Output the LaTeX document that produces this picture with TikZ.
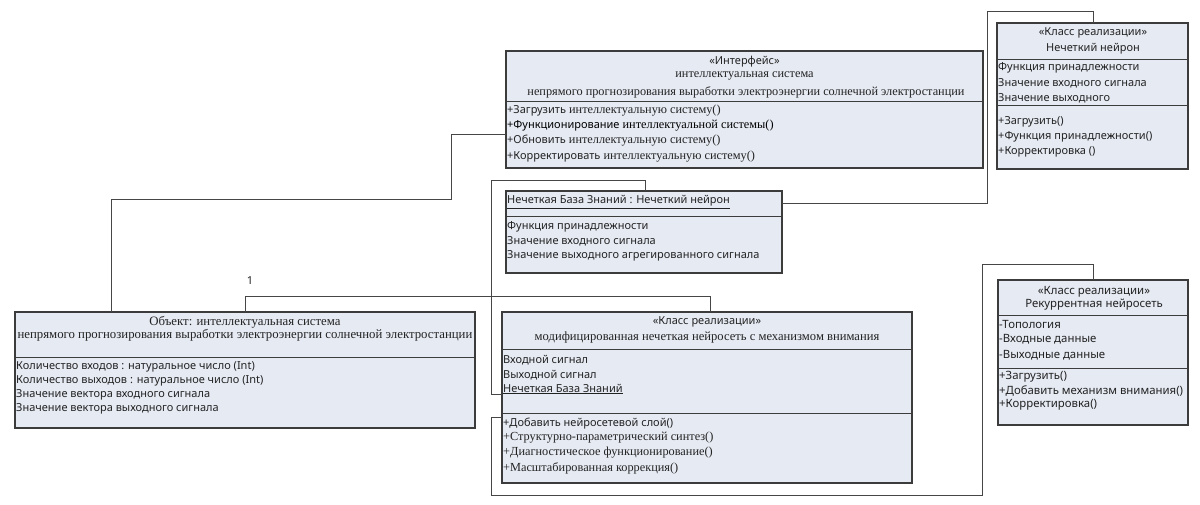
\documentclass[tikz,border=0pt]{standalone}
\usepackage{fontspec}
\usetikzlibrary{shadows}
\setmainfont{Liberation Serif}
\newfontfamily\sansf{Noto Sans}
\definecolor{boxfill}{RGB}{230,234,243}
\definecolor{boxline}{RGB}{60,60,60}
\definecolor{connline}{RGB}{70,70,70}
\definecolor{txt}{RGB}{35,35,35}
\tikzset{
 cls/.style={draw=boxline, fill=boxfill, line width=1.1pt, inner sep=0pt, outer sep=0pt, anchor=north west,
   drop shadow={shadow xshift=1.1pt, shadow yshift=-1.1pt, fill=black!55, opacity=1}},
 sepl/.style={draw=boxline, line width=0.9pt},
 conn/.style={draw=connline, line width=0.9pt},
 st/.style={font=\sansf\fontsize{11}{12}\selectfont, text=txt, anchor=west, inner sep=0pt},
 stc/.style={font=\sansf\fontsize{11}{12}\selectfont, text=txt, anchor=center, inner sep=0pt},
 stbig/.style={font=\sansf\fontsize{11.4}{13}\selectfont},
 sr/.style={font=\fontsize{12.3}{13}\selectfont, text=txt, anchor=center, inner sep=0pt},
 srw/.style={font=\fontsize{12.3}{13}\selectfont, text=txt, anchor=west, inner sep=0pt},
 srbig/.style={font=\fontsize{12.8}{14}\selectfont},
}
\newcommand{\sfx}[1]{{\sansf\fontsize{11}{12}\selectfont #1}}
\begin{document}
\begin{tikzpicture}[x=1pt,y=-1pt]
\useasboundingbox (0,0) rectangle (1200,505);
% boxes
\node[cls, minimum width=477pt, minimum height=117pt] (iface) at (506,51) {};
\node[cls, minimum width=191pt, minimum height=146pt] (neuron) at (997,23) {};
\node[cls, minimum width=276pt, minimum height=82pt] (kb) at (506,191) {};
\node[cls, minimum width=460pt, minimum height=116pt] (obj) at (15,312) {};
\node[cls, minimum width=410pt, minimum height=171pt] (mod) at (502,312) {};
\node[cls, minimum width=190pt, minimum height=145pt] (rec) at (998,280) {};
% separators
\draw[sepl] (iface.west |- 0,101) -- (iface.east |- 0,101);
\draw[sepl] (neuron.west |- 0,59) -- (neuron.east |- 0,59);
\draw[sepl] (neuron.west |- 0,105) -- (neuron.east |- 0,105);
\draw[sepl] (kb.west |- 0,216) -- (kb.east |- 0,216);
\draw[sepl] (obj.west |- 0,357) -- (obj.east |- 0,357);
\draw[sepl] (mod.west |- 0,349) -- (mod.east |- 0,349);
\draw[sepl] (mod.west |- 0,413) -- (mod.east |- 0,413);
\draw[sepl] (rec.west |- 0,315) -- (rec.east |- 0,315);
\draw[sepl] (rec.west |- 0,368) -- (rec.east |- 0,368);
% interface texts
\node[stc] (i1) at (744.5,62) {«Интерфейс»};
\node[sr] (i2) at (744.5,76) {интеллектуальная система};
\node[sr] (i3) at (746,92) {непрямого прогнозирования выработки электроэнергии солнечной электростанции};
\node[srw] (i4) at (507,111) {\sfx{+Загрузить} интеллектуальную систему()};
\node[srw, text=black] (i5) at (507,126) {\sfx{+Функционирование} интеллектуальной системы()};
\node[srw] (i6) at (507,141) {\sfx{+Обновить} интеллектуальную систему()};
\node[srw] (i7) at (507,157) {\sfx{+Корректировать} интеллектуальную систему()};
% neuron texts
\node[stc] (n1) at (1093,33) {«Класс реализации»};
\node[stc] (n2) at (1093,49) {Нечеткий нейрон};
\node[st] (n3) at (998,68) {Функция принадлежности};
\node[st] (n4) at (998,83) {Значение входного сигнала};
\node[st] (n5) at (998,98) {Значение выходного};
\node[st] (n6) at (998,122) {+Загрузить()};
\node[st] (n7) at (998,137) {+Функция принадлежности()};
\node[st] (n8) at (998,152) {+Корректировка ()};
% knowledge base texts
\node[st] (k1) at (507,202) {\underline{Нечеткая База Знаний : Нечеткий нейрон}};
\node[st] (k2) at (507,227) {Функция принадлежности};
\node[st] (k3) at (507,241) {Значение входного сигнала};
\node[st] (k4) at (507,256) {Значение выходного агрегированного сигнала};
% object texts
\node[sr, srbig] (o1) at (245,322) {Объект: интеллектуальная система};
\node[sr, srbig] (o2) at (245,335) {непрямого прогнозирования выработки электроэнергии солнечной электростанции};
\node[st] (o3) at (16,367) {Количество входов : натуральное число (Int)};
\node[st] (o4) at (16,381) {Количество выходов : натуральное число (Int)};
\node[st] (o5) at (16,395) {Значение вектора входного сигнала};
\node[st] (o6) at (16,409) {Значение вектора выходного сигнала};
% modified network texts
\node[stc] (m1) at (707,322) {«Класс реализации»};
\node[sr, font=\fontsize{12.6}{14}\selectfont] (m2) at (707,337) {модифицированная нечеткая нейросеть с механизмом внимания};
\node[st] (m3) at (503,360) {Входной сигнал};
\node[st] (m4) at (503,375) {Выходной сигнал};
\node[st] (m5) at (503,389) {\underline{Нечеткая База Знаний}};
\node[st] (m6) at (503,424) {+Добавить нейросетевой слой()};
\node[srw] (m7) at (503,438) {+Структурно-параметрический синтез()};
\node[srw] (m8) at (503,453) {+Диагностическое функционирование()};
\node[srw] (m9) at (503,468) {+Масштабированная коррекция()};
% recurrent texts
\node[stc, stbig] (r1) at (1094,292) {«Класс реализации»};
\node[stc, stbig] (r2) at (1094,305) {Рекуррентная нейросеть};
\node[st, stbig] (r3) at (999,324) {-Топология};
\node[st, stbig] (r4) at (999,339) {-Входные данные};
\node[st, stbig] (r5) at (999,355) {-Выходные данные};
\node[st, stbig] (r6) at (999,377) {+Загрузить()};
\node[st, stbig] (r7) at (999,391) {+Добавить механизм внимания()};
\node[st, stbig] (r8) at (999,405) {+Корректировка()};
% connectors
\draw[conn] (obj.north -| 111,0) |- (451,199) |- (iface.west |- 0,134);
\draw[conn] (obj.north -| 245,0) |- (710,296) -- (mod.north -| 710,0);
\node[stc] (lab1) at (250,281) {1};
\draw[conn] (kb.north -| 645,0) |- (491,180) |- (mod.west |- 0,394);
\draw[conn] (kb.east |- 0,203) -| (987,11) -| (neuron.north -| 1093,0);
\draw[conn] (rec.north -| 1093,0) |- (982,264) |- (491,495) |- (mod.west |- 0,417);
\end{tikzpicture}
\end{document}
